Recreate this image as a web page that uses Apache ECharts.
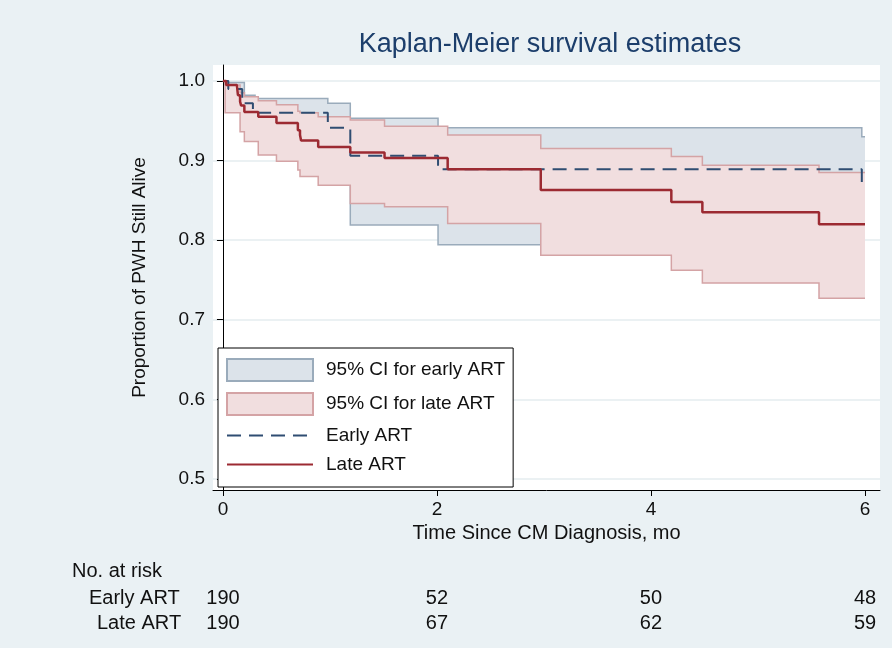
<!DOCTYPE html>
<html>
<head>
<meta charset="utf-8">
<script src="https://cdn.jsdelivr.net/npm/echarts@6/dist/echarts.min.js"></script>
<style>html,body{margin:0;padding:0;background:#eaf1f4}#chart{width:892px;height:648px}</style>
</head>
<body>
<div id="chart"></div>
<script>
// Kaplan-Meier step points (time in months, survival)
var earlyT = [0, 0.05, 0.18, 0.28, 0.98, 1.19, 2.01, 5.97, 6.0];
var earlyS = [1.0, 0.99, 0.972, 0.960, 0.941, 0.906, 0.889, 0.870, 0.870];
var lateT = [0, 0.03, 0.13, 0.14, 0.16, 0.17, 0.2, 0.33, 0.5, 0.7, 0.72, 0.73, 0.89, 1.19, 1.51, 2.10, 2.97, 4.19, 4.48, 5.57, 6.0];
var lateS = [1.0, 0.995, 0.993, 0.982, 0.974, 0.969, 0.961, 0.955, 0.947, 0.938, 0.932, 0.925, 0.917, 0.910, 0.903, 0.889, 0.863, 0.848, 0.835, 0.820, 0.820];
// confidence bands
var earlyCiT = [0, 0.05, 0.2, 0.3, 0.98, 1.19, 2.01, 5.97, 6.0];
var earlyLo = [1.0, 0.985, 0.965, 0.945, 0.915, 0.819, 0.794, 0.794, 0.794];
var earlyHi = [1.0, 0.998, 0.982, 0.978, 0.972, 0.953, 0.941, 0.930, 0.930];
var lateCiT = [0, 0.02, 0.16, 0.2, 0.33, 0.5, 0.7, 0.72, 0.89, 1.19, 1.51, 2.10, 2.97, 4.19, 4.48, 5.57, 6.0];
var lateLo = [1.0, 0.96, 0.936, 0.924, 0.907, 0.899, 0.888, 0.880, 0.869, 0.846, 0.842, 0.821, 0.781, 0.762, 0.746, 0.727, 0.727];
var lateHi = [1.0, 0.995, 0.985, 0.98, 0.975, 0.970, 0.962, 0.960, 0.955, 0.951, 0.943, 0.932, 0.915, 0.905, 0.894, 0.885, 0.885];
var riskTimes = [0, 2, 4, 6];
var riskEarly = [190, 52, 50, 48];
var riskLate = [190, 67, 62, 59];
var yTicks = [0.5, 0.6, 0.7, 0.8, 0.9, 1.0];

function pairs(t, v){ return t.map(function(x, i){ return [x, v[i]]; }); }

// step polygon for a band, through the axis scales
function stepPts(api, t, v){
	var pts = [];
	for (var i = 0; i < t.length; i++) {
		if (i > 0) pts.push(api.coord([t[i], v[i - 1]]));
		pts.push(api.coord([t[i], v[i]]));
	}
	return pts;
}
function bandSeries(name, t, lo, hi, fill, edge, z){
	return {
		name: name, type: 'custom', z: z,
		itemStyle: {color: fill, borderColor: edge, borderWidth: 1.5},
		data: [[t[0], hi[0]]],
		renderItem: function(params, api){
			var top = stepPts(api, t, hi);
			var bot = stepPts(api, t, lo);
			return {type: 'group', children: [
				{type: 'polygon', shape: {points: top.concat(bot.slice().reverse())}, style: {fill: fill}},
				{type: 'polyline', shape: {points: top}, style: {stroke: edge, lineWidth: 1.5, fill: null}},
				{type: 'polyline', shape: {points: bot}, style: {stroke: edge, lineWidth: 1.5, fill: null}}
			]};
		}
	};
}

var chart = echarts.init(document.getElementById('chart'));
var font = 'Liberation Sans, Arial, sans-serif';
var option = {
	backgroundColor: '#eaf1f4',
	animation: false,
	title: {
		text: 'Kaplan-Meier survival estimates',
		left: 545, top: 26, textAlign: 'center',
		textStyle: {fontFamily: font, fontSize: 27, fontWeight: 'normal', color: '#1c3e6b'}
	},
	grid: {left: 213, right: 12, top: 65, bottom: 158, show: true, backgroundColor: '#ffffff', borderWidth: 0},
	xAxis: {
		type: 'value', min: -0.093, max: 6.14,
		name: 'Time Since CM Diagnosis, mo', nameLocation: 'middle', nameGap: 33,
		nameTextStyle: {fontFamily: font, fontSize: 20, color: '#111'},
		axisLine: {show: true, onZero: false, lineStyle: {color: '#000'}},
		axisTick: {show: true, customValues: riskTimes, length: 6, lineStyle: {color: '#000'}},
		axisLabel: {customValues: riskTimes, fontFamily: font, fontSize: 19, color: '#111', margin: 10},
		splitLine: {show: false}
	},
	yAxis: {
		type: 'value', min: 0.486, max: 1.02,
		name: 'Proportion of PWH Still Alive', nameLocation: 'middle', nameGap: 64,
		nameTextStyle: {fontFamily: font, fontSize: 19, color: '#111'},
		axisLine: {show: true, lineStyle: {color: '#000'}},
		axisTick: {show: true, customValues: yTicks, length: 6, lineStyle: {color: '#000'}},
		axisLabel: {customValues: yTicks, fontFamily: font, fontSize: 19, color: '#111',
			formatter: function(v){ return v.toFixed(1); }},
		splitLine: {show: true, lineStyle: {color: '#e4ecef', width: 1.5}}
	},
	legend: {
		orient: 'vertical', left: 218, top: 348, itemWidth: 86, itemHeight: 22, itemGap: 10,
		padding: [10, 8, 13, 8], backgroundColor: '#fff', borderColor: '#000', borderWidth: 1,
		textStyle: {fontFamily: font, fontSize: 19, color: '#111', width: 218, padding: [0, 0, 0, 8]},
		data: [
			{name: '95% CI for early ART', icon: 'rect'},
			{name: '95% CI for late ART', icon: 'rect'},
			{name: 'Early ART', itemStyle: {opacity: 0}},
			{name: 'Late ART', itemStyle: {opacity: 0}}
		]
	},
	series: [
		bandSeries('95% CI for early ART', earlyCiT, earlyLo, earlyHi, '#dce3ea', '#9aabbb', 1),
		bandSeries('95% CI for late ART', lateCiT, lateLo, lateHi, '#f1dedf', '#d4a3a5', 2),
		{name: 'Early ART', type: 'line', step: 'end', symbol: 'none', itemStyle: {color: '#2f4d72'},
			lineStyle: {color: '#2f4d72', width: 2, type: [14, 8]}, data: pairs(earlyT, earlyS), z: 4},
		{name: 'Late ART', type: 'line', step: 'end', symbol: 'none', itemStyle: {color: '#9c2a32'},
			lineStyle: {color: '#9c2a32', width: 2.5}, data: pairs(lateT, lateS), z: 5}
	]
};
chart.setOption(option);

// number at risk table and P value
var g = [
	{type: 'text', left: 442, top: 455, style: {text: 'P', font: 'italic 19px ' + font, fill: '#111'}},
	{type: 'text', left: 457, top: 455, style: {text: '= .44', font: '19px ' + font, fill: '#111'}},
	{type: 'text', left: 72, top: 561, style: {text: 'No. at risk', font: '20px ' + font, fill: '#111'}},
	{type: 'text', left: 89, top: 588, style: {text: 'Early ART', font: '20px ' + font, fill: '#111'}},
	{type: 'text', left: 97, top: 613, style: {text: 'Late ART', font: '20px ' + font, fill: '#111'}}
];
riskTimes.forEach(function(t, i){
	var px = chart.convertToPixel({xAxisIndex: 0}, t);
	g.push({type: 'text', x: px, y: 588, style: {text: String(riskEarly[i]), font: '20px ' + font, fill: '#111', align: 'center'}});
	g.push({type: 'text', x: px, y: 613, style: {text: String(riskLate[i]), font: '20px ' + font, fill: '#111', align: 'center'}});
});
chart.setOption({graphic: g});
</script>
</body>
</html>
